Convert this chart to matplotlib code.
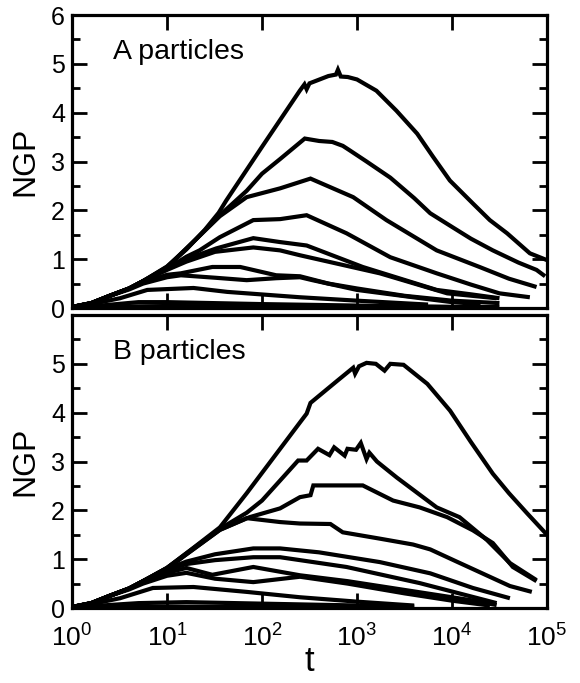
import matplotlib
matplotlib.use("Agg")
import matplotlib.pyplot as plt
from matplotlib.ticker import MultipleLocator, FixedLocator, NullLocator

plt.rcParams['font.family'] = ['Liberation Sans', 'DejaVu Sans']
plt.rcParams['mathtext.fontset'] = 'custom'
plt.rcParams['mathtext.rm'] = 'Liberation Sans'
plt.rcParams['mathtext.it'] = 'Liberation Sans:italic'
plt.rcParams['mathtext.default'] = 'regular'

# ---------------- A particles ----------------
A1_t = [1, 1.6, 2.5, 4, 5.6, 10, 16, 25, 35, 42, 100, 250, 280, 295, 316, 500, 600, 630, 675, 800, 1000, 1600, 2600, 4300, 6300, 9500, 16600, 25000, 38000, 66000, 100000]
A1_v = [0.02, 0.1, 0.25, 0.4, 0.55, 0.85, 1.2, 1.6, 1.95, 2.2, 3.3, 4.45, 4.58, 4.48, 4.6, 4.75, 4.78, 4.88, 4.74, 4.73, 4.68, 4.45, 4.04, 3.57, 3.1, 2.61, 2.14, 1.8, 1.53, 1.12, 0.98]
A2_t = [1, 1.6, 2.5, 4, 5.6, 10, 20, 36, 69, 100, 155, 282, 400, 550, 710, 851, 1260, 2240, 4000, 5900, 10200, 15800, 26900, 50100, 77600, 95500]
A2_v = [0.02, 0.1, 0.25, 0.4, 0.55, 0.84, 1.4, 1.9, 2.4, 2.75, 3.05, 3.47, 3.42, 3.4, 3.32, 3.22, 3.0, 2.67, 2.25, 1.94, 1.65, 1.42, 1.18, 0.93, 0.78, 0.65]
A3_t = [1, 1.6, 2.5, 4, 5.6, 10, 20, 36, 69, 155, 324, 912, 2040, 6900, 19500, 39800, 77600]
A3_v = [0.02, 0.1, 0.25, 0.4, 0.55, 0.83, 1.4, 1.88, 2.27, 2.45, 2.65, 2.27, 1.8, 1.18, 0.84, 0.6, 0.43]
A4_t = [1, 1.6, 2.5, 4, 5.6, 10, 16, 22, 36, 81, 155, 295, 776, 2240, 6900, 15800, 31600, 66000]
A4_v = [0.02, 0.1, 0.25, 0.4, 0.55, 0.8, 1.05, 1.18, 1.45, 1.8, 1.82, 1.9, 1.53, 1.04, 0.71, 0.48, 0.3, 0.22]
A5_t = [1, 1.6, 2.5, 4, 5.6, 10, 16, 33, 81, 155, 295, 1150, 6900, 15800, 31600]
A5_v = [0.02, 0.1, 0.25, 0.4, 0.55, 0.8, 1.0, 1.22, 1.43, 1.35, 1.28, 0.84, 0.37, 0.28, 0.2]
A6_t = [1, 1.6, 2.5, 4, 5.6, 10, 16, 32, 81, 155, 251, 1740, 8900, 29500]
A6_v = [0.02, 0.1, 0.25, 0.4, 0.55, 0.78, 0.95, 1.15, 1.24, 1.18, 1.08, 0.71, 0.3, 0.2]
A7_t = [1, 1.6, 2.5, 4, 5.6, 10, 14, 30, 59, 141, 251, 500, 1000, 3160, 10000, 31600]
A7_v = [0.02, 0.1, 0.25, 0.4, 0.52, 0.68, 0.71, 0.84, 0.84, 0.67, 0.65, 0.5, 0.4, 0.25, 0.15, 0.1]
A8_t = [1, 1.6, 2.5, 4, 5.6, 10, 14, 32, 69, 141, 251, 339, 1000, 3890, 10000, 20000]
A8_v = [0.02, 0.1, 0.25, 0.38, 0.5, 0.63, 0.67, 0.62, 0.57, 0.61, 0.63, 0.57, 0.37, 0.22, 0.12, 0.08]
A9_t = [1, 1.6, 3.2, 6.2, 19, 43, 251, 1000, 5600]
A9_v = [0.02, 0.08, 0.2, 0.37, 0.41, 0.33, 0.22, 0.15, 0.07]
A10_t = [1, 2, 5, 10, 100, 1000, 10000]
A10_v = [0.02, 0.05, 0.12, 0.12, 0.08, 0.05, 0.02]
A11_t = [1, 3, 10, 1000, 31600]
A11_v = [0.01, 0.03, 0.04, 0.03, 0.02]
A12_t = [1, 10, 100, 5000]
A12_v = [0.01, 0.02, 0.01, 0.01]

# ---------------- B particles ----------------
B1_t = [1, 1.6, 2.5, 4, 5.6, 10, 16, 36, 69, 87, 251, 295, 324, 617, 912, 955, 1050, 1260, 1580, 1950, 2240, 3090, 5500, 9550, 15800, 26900, 39800, 61700, 100000]
B1_v = [0.02, 0.1, 0.25, 0.4, 0.55, 0.82, 1.12, 1.65, 2.35, 2.61, 3.8, 3.98, 4.2, 4.65, 4.92, 4.8, 4.95, 5.02, 5.0, 4.86, 5.0, 4.98, 4.59, 4.04, 3.4, 2.75, 2.35, 1.94, 1.5]
B2_t = [1, 1.6, 2.5, 4, 5.6, 10, 16, 36, 69, 100, 155, 240, 295, 389, 513, 575, 741, 794, 977, 1096, 1260, 1350, 1620, 1820, 2630, 6900, 12000, 23400, 40700, 77600]
B2_v = [0.02, 0.1, 0.25, 0.4, 0.55, 0.82, 1.12, 1.62, 1.95, 2.2, 2.61, 3.02, 3.02, 3.26, 3.13, 3.29, 3.12, 3.26, 3.24, 3.38, 3.05, 3.18, 3.0, 2.92, 2.67, 2.06, 1.86, 1.39, 0.92, 0.57]
B3_t = [1, 1.6, 2.5, 4, 5.6, 10, 16, 36, 74, 155, 251, 324, 347, 1150, 2400, 4570, 8900, 16600, 26900, 43700, 77600]
B3_v = [0.02, 0.1, 0.25, 0.4, 0.55, 0.82, 1.1, 1.6, 1.86, 2.04, 2.27, 2.31, 2.51, 2.51, 2.2, 2.06, 1.86, 1.59, 1.33, 0.84, 0.55]
B4_t = [1, 1.6, 2.5, 4, 5.6, 10, 16, 36, 69, 155, 251, 525, 708, 1740, 3890, 5900, 11200, 40700, 69200]
B4_v = [0.02, 0.1, 0.25, 0.4, 0.55, 0.8, 1.1, 1.6, 1.84, 1.76, 1.73, 1.72, 1.55, 1.42, 1.3, 1.2, 0.95, 0.45, 0.33]
B5_t = [1, 1.6, 2.5, 4, 5.6, 10, 16, 32, 81, 155, 398, 1740, 5900, 16600, 40700]
B5_v = [0.02, 0.1, 0.25, 0.4, 0.55, 0.8, 0.95, 1.1, 1.22, 1.22, 1.14, 0.94, 0.71, 0.41, 0.2]
B6_t = [1, 1.6, 2.5, 4, 5.6, 10, 16, 32, 81, 155, 776, 4570, 29500]
B6_v = [0.02, 0.1, 0.25, 0.4, 0.55, 0.78, 0.9, 0.98, 1.04, 1.04, 0.84, 0.51, 0.1]
B7_t = [1, 1.6, 2.5, 4, 5.6, 10, 16, 30, 81, 251, 794, 3160, 15800, 29500]
B7_v = [0.02, 0.1, 0.25, 0.4, 0.52, 0.72, 0.82, 0.68, 0.84, 0.67, 0.55, 0.37, 0.16, 0.06]
B8_t = [1, 1.6, 2.5, 4, 5.6, 10, 16, 32, 81, 251, 794, 3160, 10000, 25100]
B8_v = [0.02, 0.1, 0.25, 0.38, 0.5, 0.66, 0.72, 0.6, 0.53, 0.64, 0.5, 0.3, 0.15, 0.05]
B9_t = [1, 1.6, 3.2, 7.1, 19, 69, 251, 1000, 4000]
B9_v = [0.02, 0.08, 0.2, 0.41, 0.43, 0.33, 0.22, 0.13, 0.05]
B10_t = [1, 2, 5, 16, 316, 4000]
B10_v = [0.02, 0.05, 0.1, 0.12, 0.07, 0.03]
B11_t = [1, 10, 100, 4000]
B11_v = [0.01, 0.03, 0.02, 0.01]

A_curves = [(A1_t, A1_v), (A2_t, A2_v), (A3_t, A3_v), (A4_t, A4_v), (A5_t, A5_v),
            (A6_t, A6_v), (A7_t, A7_v), (A8_t, A8_v), (A9_t, A9_v), (A10_t, A10_v),
            (A11_t, A11_v), (A12_t, A12_v)]
B_curves = [(B1_t, B1_v), (B2_t, B2_v), (B3_t, B3_v), (B4_t, B4_v), (B5_t, B5_v),
            (B6_t, B6_v), (B7_t, B7_v), (B8_t, B8_v), (B9_t, B9_v), (B10_t, B10_v),
            (B11_t, B11_v)]

panel_labels = ["A particles", "B particles"]
x_ticks = [1, 10, 100, 1000, 10000, 100000]
y_ticks_top = [0, 1, 2, 3, 4, 5, 6]
y_ticks_bottom = [0, 1, 2, 3, 4, 5]

W, H = 580, 683
fig = plt.figure(figsize=(W / 100, H / 100), dpi=100)
L, R = 72 / W, 547 / W
ax1 = fig.add_axes([L, 1 - 308 / H, R - L, (308 - 15) / H])
ax2 = fig.add_axes([L, 1 - 608 / H, R - L, (608 - 315) / H])

for ax, curves, lab, yt in [(ax1, A_curves, panel_labels[0], y_ticks_top),
                            (ax2, B_curves, panel_labels[1], y_ticks_bottom)]:
    for t, v in curves:
        ax.plot(t, v, color='black', lw=3.0, solid_joinstyle='miter', solid_capstyle='butt')
    ax.set_xscale('log')
    ax.set_xlim(1, 1e5)
    ax.set_ylim(0, 6)
    ax.xaxis.set_major_locator(FixedLocator(x_ticks))
    ax.xaxis.set_minor_locator(NullLocator())
    ax.yaxis.set_major_locator(FixedLocator(yt))
    ax.yaxis.set_minor_locator(MultipleLocator(0.5))
    ax.tick_params(which='both', direction='in', top=True, right=True, width=2.0)
    ax.tick_params(axis='y', labelsize=18, pad=5)
    ax.tick_params(axis='x', labelsize=19, pad=12)
    ax.tick_params(which='major', length=11)
    ax.tick_params(which='minor', length=6)
    for s in ax.spines.values():
        s.set_linewidth(2.3)
    ax.set_ylabel('NGP', fontsize=23, labelpad=8)
    ax.text(0.086, 0.875, lab, transform=ax.transAxes, fontsize=20.5, va='center', ha='left')

ax1.tick_params(labelbottom=False)
ax2.set_xlabel('t', fontsize=25, labelpad=-5)

fig.savefig('out.png', dpi=100)
